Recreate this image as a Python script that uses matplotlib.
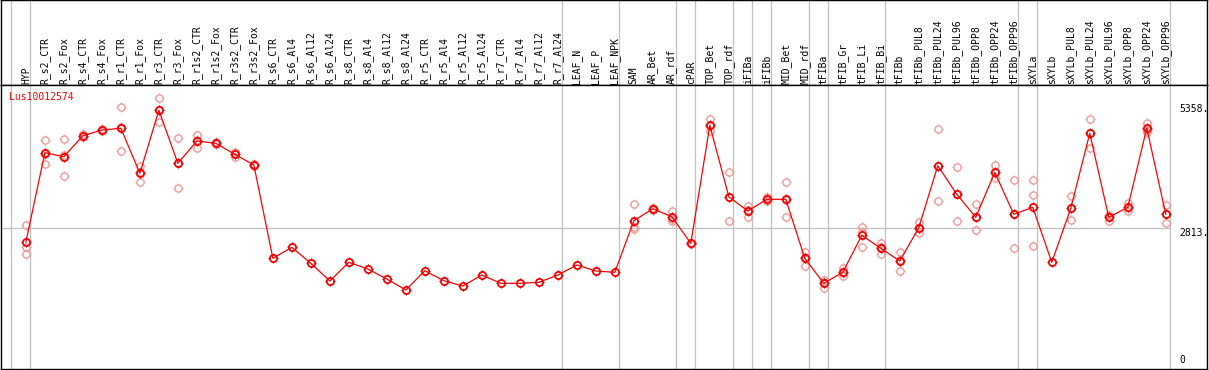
import numpy as np
import matplotlib.pyplot as plt
from matplotlib.path import Path

samples = ['HYP', 'R_s2_CTR', 'R_s2_Fox', 'R_s4_CTR', 'R_s4_Fox', 'R_r1_CTR', 'R_r1_Fox',
           'R_r3_CTR', 'R_r3_Fox', 'R_r1s2_CTR', 'R_r1s2_Fox', 'R_r3s2_CTR', 'R_r3s2_Fox',
           'R_s6_CTR', 'R_s6_Al4', 'R_s6_Al12', 'R_s6_Al24', 'R_s8_CTR', 'R_s8_Al4',
           'R_s8_Al12', 'R_s8_Al24', 'R_r5_CTR', 'R_r5_Al4', 'R_r5_Al12', 'R_r5_Al24',
           'R_r7_CTR', 'R_r7_Al4', 'R_r7_Al12', 'R_r7_Al24', 'LEAF_N', 'LEAF_P', 'LEAF_NPK',
           'SAM', 'AR_Bet', 'AR_rdf', 'cPAR', 'TOP_Bet', 'TOP_rdf', 'iFIBa', 'iFIBb',
           'MID_Bet', 'MID_rdf', 'tFIBa', 'tFIB_Gr', 'tFIB_Li', 'tFIB_Bi', 'tFIBb',
           'tFIBb_PUL8', 'tFIBb_PUL24', 'tFIBb_PUL96', 'tFIBb_OPP8', 'tFIBb_OPP24',
           'tFIBb_OPP96', 'sXYLa', 'sXYLb', 'sXYLb_PUL8', 'sXYLb_PUL24', 'sXYLb_PUL96',
           'sXYLb_OPP8', 'sXYLb_OPP24', 'sXYLb_OPP96']

# mean expression per sample
means = [2532, 4365, 4283, 4713, 4830, 4865, 3942, 5235, 4147, 4605, 4557, 4332, 4112,
         2198, 2423, 2095, 1732, 2116, 1978, 1773, 1547, 1943, 1738, 1629, 1855,
         1685, 1685, 1705, 1855, 2060, 1937, 1910,
         2969, 3215, 3051, 2505, 4927, 3462, 3168, 3408, 3408, 2198,
         1685, 1910, 2670, 2403, 2142, 2826, 4098, 3511, 3039, 3962, 3101,
         3244, 2116, 3224, 4763, 3039, 3244, 4871, 3101]

# replicate values (empty where none are shown)
reps = [[2881, 2436, 2280], [4619, 4139, 4337], [4640, 3887, 4322], [4740, 4690, 4710],
        [4850, 4810, 4830], [5309, 4393, 4893], [4092, 3770, 3964], [5481, 4988, 5236],
        [4660, 3634, 4147], [4728, 4455, 4632], [4580, 4540, 4550], [4385, 4283, 4328],
        [4130, 4090, 4115],
        [], [], [], [], [], [], [], [], [], [], [], [], [], [], [], [], [], [], [],
        [3312, 2846, 2793], [3235, 3195, 3215], [3174, 2969, 3010], [2515, 2495, 2505],
        [5056, 4810, 4915], [3975, 2957, 3454], [3271, 3051, 3182], [3462, 3394, 3368],
        [3770, 3051, 3403], [2333, 2046, 2215], [1752, 1594, 1709], [1992, 1834, 1904],
        [2846, 2436, 2728], [2505, 2280, 2424], [2333, 1937, 2156], [2949, 2711, 2818],
        [4845, 3367, 4082], [4065, 2957, 3511], [3306, 2772, 3039], [4106, 3839, 3941],
        [3798, 2403, 3102], [3798, 3490, 2444], [],
        [3470, 2977, 3225], [5050, 4461, 4778], [3086, 2969, 3062], [3339, 3168, 3225],
        [4980, 4796, 4837], [3285, 2916, 3102]]

group_breaks = [0, 1, 29, 32, 35, 36, 38, 39, 40, 42, 43, 46, 53, 54, 61]
ref_value = 2813
axis_labels = [5358, 2813, 0]
gene = 'Lus10012574'

plt.rcParams['font.family'] = 'DejaVu Sans Mono'
plt.rcParams['font.size'] = 7

# small ticks sticking out of the circle markers
ticks = Path([(0, 0.72), (0, 1), (0, -0.72), (0, -1), (0.72, 0), (1, 0), (-0.72, 0), (-1, 0)],
             [Path.MOVETO, Path.LINETO] * 4)

W, H = 1209, 370
fig = plt.figure(figsize=(W / 100, H / 100), dpi=100)
ax_h = fig.add_axes([1 / W, 285 / H, 1206 / W, 85 / H])
ax = fig.add_axes([1 / W, 1 / H, 1206 / W, 284 / H])

xlim = (-0.51, 62.97)
grid_c = '#c0c0c0'
for a in (ax_h, ax):
    a.set_xlim(*xlim)
    a.set_xticks([])
    a.set_yticks([])
    for s in a.spines.values():
        s.set_color('black')
        s.set_linewidth(1.0)
    for b in group_breaks:
        a.axvline(b, color=grid_c, linewidth=0.9, zorder=0)

ax_h.set_ylim(0, 1)
ax.set_ylim(-74, 5754)

x = np.arange(len(samples)) + 0.8
for xi, name in zip(x, samples):
    ax_h.text(xi, 0.012, name, rotation=90, ha='center', va='bottom', fontsize=7)

ax.plot([xlim[0], group_breaks[-1]], [ref_value, ref_value], color=grid_c, linewidth=0.9, zorder=0)

# replicates
for xi, r in zip(x, reps):
    if r:
        ax.plot([xi] * len(r), r, 'o', ms=5.2, mfc='none', mec='#f09a9a', mew=1.0, zorder=2)
        ax.plot([xi] * len(r), r, marker=ticks, ls='none', ms=7.2, mec='#f09a9a', mew=0.8, zorder=2)

ax.plot(x, means, '-', color='red', linewidth=0.9, zorder=3)
ax.plot(x, means, 'o', ms=5.2, mfc='none', mec='red', mew=1.3, zorder=4)
ax.plot(x, means, marker=ticks, ls='none', ms=7.2, mec='#b00000', mew=0.8, zorder=4)

ax.text(0.0069, 0.957, gene, color='red', fontsize=7, ha='left', va='center',
        transform=ax.transAxes)

for v in axis_labels:
    ax.text(61.5, v, f'{v}.' if v else '0', ha='left',
            va='top' if v else 'bottom', fontsize=7)

fig.savefig('out.png', dpi=100)
